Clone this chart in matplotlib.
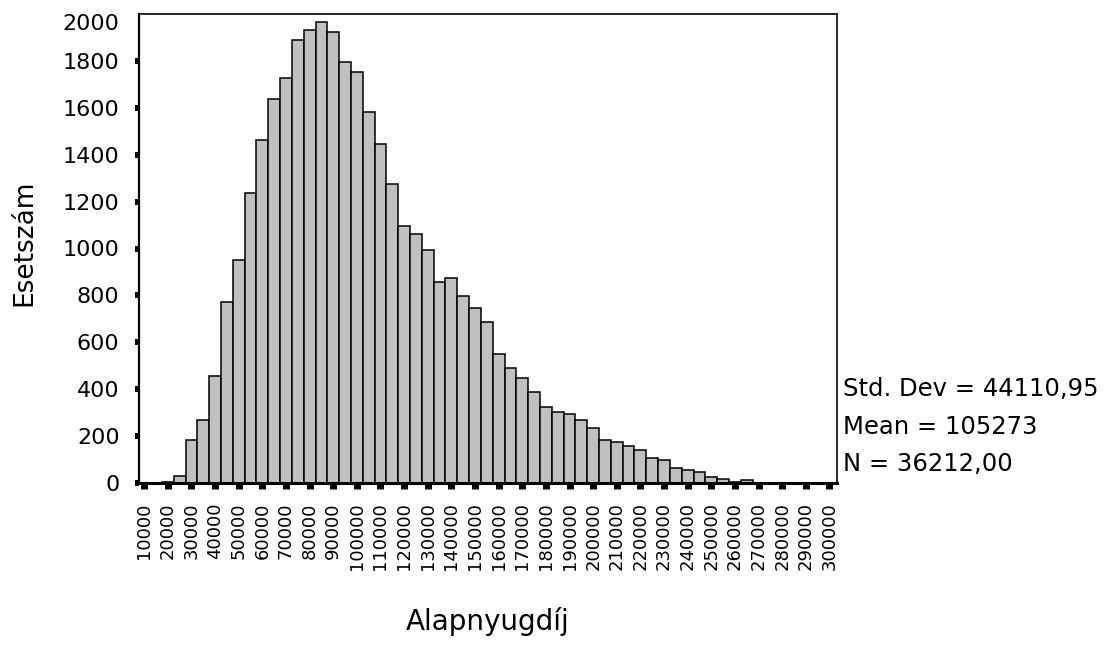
import numpy as np
import matplotlib
matplotlib.use("Agg")
import matplotlib.pyplot as plt

# histogram of base pension (bins of 5000, centred on the values below)
bin_centers = list(range(10000, 300001, 5000))
counts = [
    0, 0, 5, 30, 183, 269, 456, 773, 951, 1235,
    1463, 1636, 1726, 1889, 1932, 1966, 1923, 1797, 1754, 1581,
    1446, 1275, 1096, 1062, 994, 857, 876, 797, 745, 687,
    549, 489, 447, 388, 323, 302, 294, 269, 233, 183,
    174, 158, 141, 108, 98, 65, 55, 48, 27, 18,
    6, 13, 0, 0, 0, 0, 0, 0, 0,
]
x_ticks = list(range(10000, 300001, 10000))
y_ticks = list(range(0, 2001, 200))
stats_lines = ["Std. Dev = 44110,95", "Mean = 105273", "N = 36212,00"]
x_label = "Alapnyugdíj"
y_label = "Esetszám"

W, H = 1115, 645
fig = plt.figure(figsize=(W / 100, H / 100), dpi=100)
ax = fig.add_axes([139 / W, 1 - 483 / H, (837 - 139) / W, (483 - 14) / H])

ax.bar(bin_centers, counts, width=5000, color="#c0c0c0",
       edgecolor="black", linewidth=1.1, zorder=2)

ax.set_xlim(7800, 303200)
ax.set_ylim(0, 2000)

ax.set_xticks(x_ticks)
ax.set_xticklabels([str(v) for v in x_ticks], rotation=90, fontsize=13)
ax.set_yticks(y_ticks)
ax.set_yticklabels([str(v) for v in y_ticks], fontsize=16)

ax.tick_params(axis="x", direction="out", length=4, width=5, pad=10)
ax.tick_params(axis="y", direction="out", length=3, width=4.3, pad=11)

# top label sits a bit lower, no tick mark at 2000
ax.get_yticklabels()[-1].set_verticalalignment("top")
ax.yaxis.get_major_ticks()[-1].tick1line.set_visible(False)

for side in ["top", "right"]:
    ax.spines[side].set_linewidth(1.2)
ax.spines["left"].set_linewidth(1.6)
ax.spines["bottom"].set_linewidth(2.2)

fig.text(24 / W, 1 - 243 / H, y_label, rotation=90, fontsize=19,
         ha="center", va="center")
fig.text(488 / W, 1 - 622 / H, x_label, fontsize=20,
         ha="center", va="center")

for i, line in enumerate(stats_lines):
    fig.text(843 / W, 1 - (389 + 37.5 * i) / H, line, fontsize=17.5,
             ha="left", va="center")

fig.savefig("out.png", dpi=100)
